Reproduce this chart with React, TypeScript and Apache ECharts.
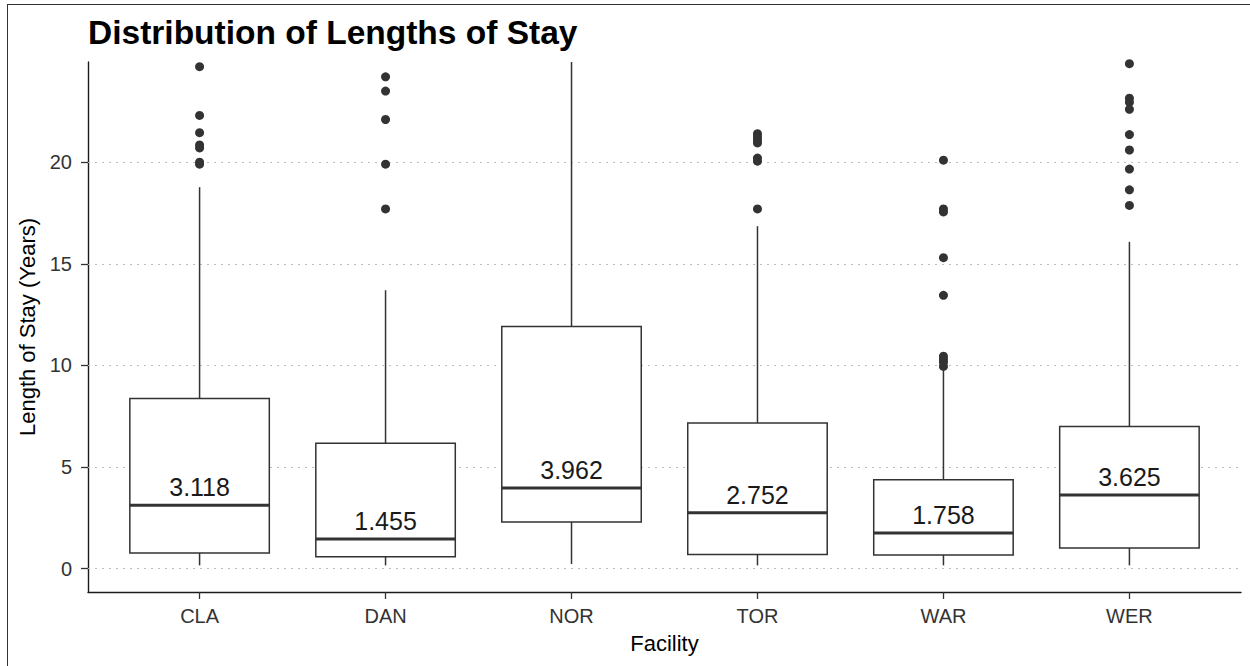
import React, { useEffect, useRef } from "react";
import * as echarts from "echarts";

const CATEGORIES = ["CLA", "DAN", "NOR", "TOR", "WAR", "WER"];
const LOWER_WHISKER = [0.16, 0.16, 0.23, 0.16, 0.16, 0.16];
const Q1 = [0.77, 0.59, 2.3, 0.69, 0.67, 1.02];
const MEDIAN = [3.118, 1.455, 3.962, 2.752, 1.758, 3.625];
const Q3 = [8.37, 6.17, 11.91, 7.17, 4.37, 7.0];
const UPPER_WHISKER = [18.77, 13.7, 26.0, 16.85, 9.75, 16.08];
const MEDIAN_LABELS = ["3.118", "1.455", "3.962", "2.752", "1.758", "3.625"];
const OUTLIERS_CLA = [24.7, 22.3, 21.45, 20.85, 20.7, 20.0, 19.9];
const OUTLIERS_DAN = [24.2, 23.5, 22.1, 19.9, 17.7];
const OUTLIERS_NOR: number[] = [];
const OUTLIERS_TOR = [21.4, 21.25, 21.1, 20.95, 20.2, 20.05, 17.7];
const OUTLIERS_WAR = [20.1, 17.7, 17.55, 15.3, 13.45, 10.45, 10.3, 10.15, 9.95];
const OUTLIERS_WER = [24.85, 23.15, 22.95, 22.6, 21.36, 20.6, 19.66, 18.64, 17.87];
const Y_TICKS = [0, 5, 10, 15, 20];
const X_TICKS = [0, 1, 2, 3, 4, 5];

const FONT = "Liberation Sans, Arial, sans-serif";
const BOX_W = 0.75;

export default function App() {
  const ref = useRef<HTMLDivElement>(null);
  useEffect(() => {
    if (!ref.current) return;
    const chart = echarts.init(ref.current, null, { renderer: "svg" });
    const outlierGroups = [OUTLIERS_CLA, OUTLIERS_DAN, OUTLIERS_NOR, OUTLIERS_TOR, OUTLIERS_WAR, OUTLIERS_WER];
    const outlierData: number[][] = [];
    outlierGroups.forEach((g, i) => g.forEach((v) => outlierData.push([i, v])));
    const boxData = CATEGORIES.map((_, i) => [i, LOWER_WHISKER[i], Q1[i], MEDIAN[i], Q3[i], UPPER_WHISKER[i]]);

    chart.setOption({
      animation: false,
      backgroundColor: "#ffffff",
      title: {
        text: "Distribution of Lengths of Stay",
        left: 88,
        top: 15,
        padding: 0,
        textStyle: { fontSize: 33.5, fontWeight: "bold", color: "#000", fontFamily: FONT },
      },
      grid: { left: 88, right: 9, top: 62, bottom: 74, containLabel: false },
      xAxis: {
        type: "value",
        min: -0.6,
        max: 5.6,
        name: "Facility",
        nameLocation: "middle",
        nameGap: 40,
        nameTextStyle: { fontSize: 22, color: "#000", fontFamily: FONT },
        axisLine: { onZero: false, lineStyle: { color: "#1a1a1a", width: 1.4 } },
        axisTick: { customValues: X_TICKS, length: 7, lineStyle: { color: "#333", width: 1.3 } },
        axisLabel: {
          customValues: X_TICKS,
          formatter: (v: number) => CATEGORIES[Math.round(v)] ?? "",
          fontSize: 20,
          color: "#333",
          margin: 14,
          fontFamily: FONT,
        },
        splitLine: { show: false },
      },
      yAxis: {
        type: "value",
        min: -1.15,
        max: 24.93,
        name: "Length of Stay (Years)",
        nameLocation: "middle",
        nameGap: 43,
        nameTextStyle: { fontSize: 22, color: "#000", fontFamily: FONT },
        axisLine: { onZero: false, lineStyle: { color: "#1a1a1a", width: 1.4 } },
        axisTick: { customValues: Y_TICKS, length: 7, lineStyle: { color: "#333", width: 1.3 } },
        axisLabel: { customValues: Y_TICKS, fontSize: 20, color: "#333", margin: 16, fontFamily: FONT },
        splitLine: { show: false },
      },
      graphic: [
        { type: "line", shape: { x1: 7, y1: 4.5, x2: 1250, y2: 4.5 }, style: { stroke: "#333", lineWidth: 1 } },
        { type: "line", shape: { x1: 7.5, y1: 4, x2: 7.5, y2: 666 }, style: { stroke: "#333", lineWidth: 1 } },
      ],
      series: [
        {
          type: "custom",
          z: 2,
          clip: true,
          data: boxData,
          encode: { x: 0, y: [1, 2, 3, 4, 5] },
          renderItem: (params: any, api: any) => {
            const i = api.value(0);
            const lo = api.coord([i, api.value(1)]);
            const q1 = api.coord([i, api.value(2)]);
            const med = api.coord([i, api.value(3)]);
            const q3 = api.coord([i, api.value(4)]);
            const hi = api.coord([i, api.value(5)]);
            const x = lo[0];
            const halfW = api.size([BOX_W, 0])[0] / 2;
            const ls = { stroke: "#333", lineWidth: 1.5, fill: "none" };
            return {
              type: "group",
              children: [
                { type: "line", shape: { x1: x, y1: lo[1], x2: x, y2: q1[1] }, style: ls },
                { type: "line", shape: { x1: x, y1: q3[1], x2: x, y2: hi[1] }, style: ls },
                {
                  type: "rect",
                  shape: { x: x - halfW, y: q3[1], width: 2 * halfW, height: q1[1] - q3[1] },
                  style: { fill: "#fff", stroke: "#333", lineWidth: 1.5 },
                },
                {
                  type: "line",
                  shape: { x1: x - halfW, y1: med[1], x2: x + halfW, y2: med[1] },
                  style: { stroke: "#333", lineWidth: 3 },
                },
                {
                  type: "text",
                  x: x,
                  y: med[1] - 18,
                  style: {
                    text: MEDIAN_LABELS[params.dataIndex],
                    fill: "#1a1a1a",
                    fontSize: 25,
                    fontFamily: FONT,
                    align: "center",
                    verticalAlign: "middle",
                  },
                },
              ],
            };
          },
        },
        {
          type: "scatter",
          z: 3,
          data: outlierData,
          symbol: "circle",
          symbolSize: 9,
          itemStyle: { color: "#333", opacity: 1 },
          markLine: {
            z: 1,
            silent: true,
            symbol: ["none", "none"],
            label: { show: false },
            lineStyle: { color: "#bdbdbd", width: 1.2, type: [2, 5] },
            data: Y_TICKS.map((v) => ({ yAxis: v })),
          },
        },
      ],
    });
    return () => chart.dispose();
  }, []);
  return (
    <div
      ref={ref}
      style={{ position: "fixed", left: 0, top: 0, width: 1250, height: 666, background: "#fff" }}
    />
  );
}
